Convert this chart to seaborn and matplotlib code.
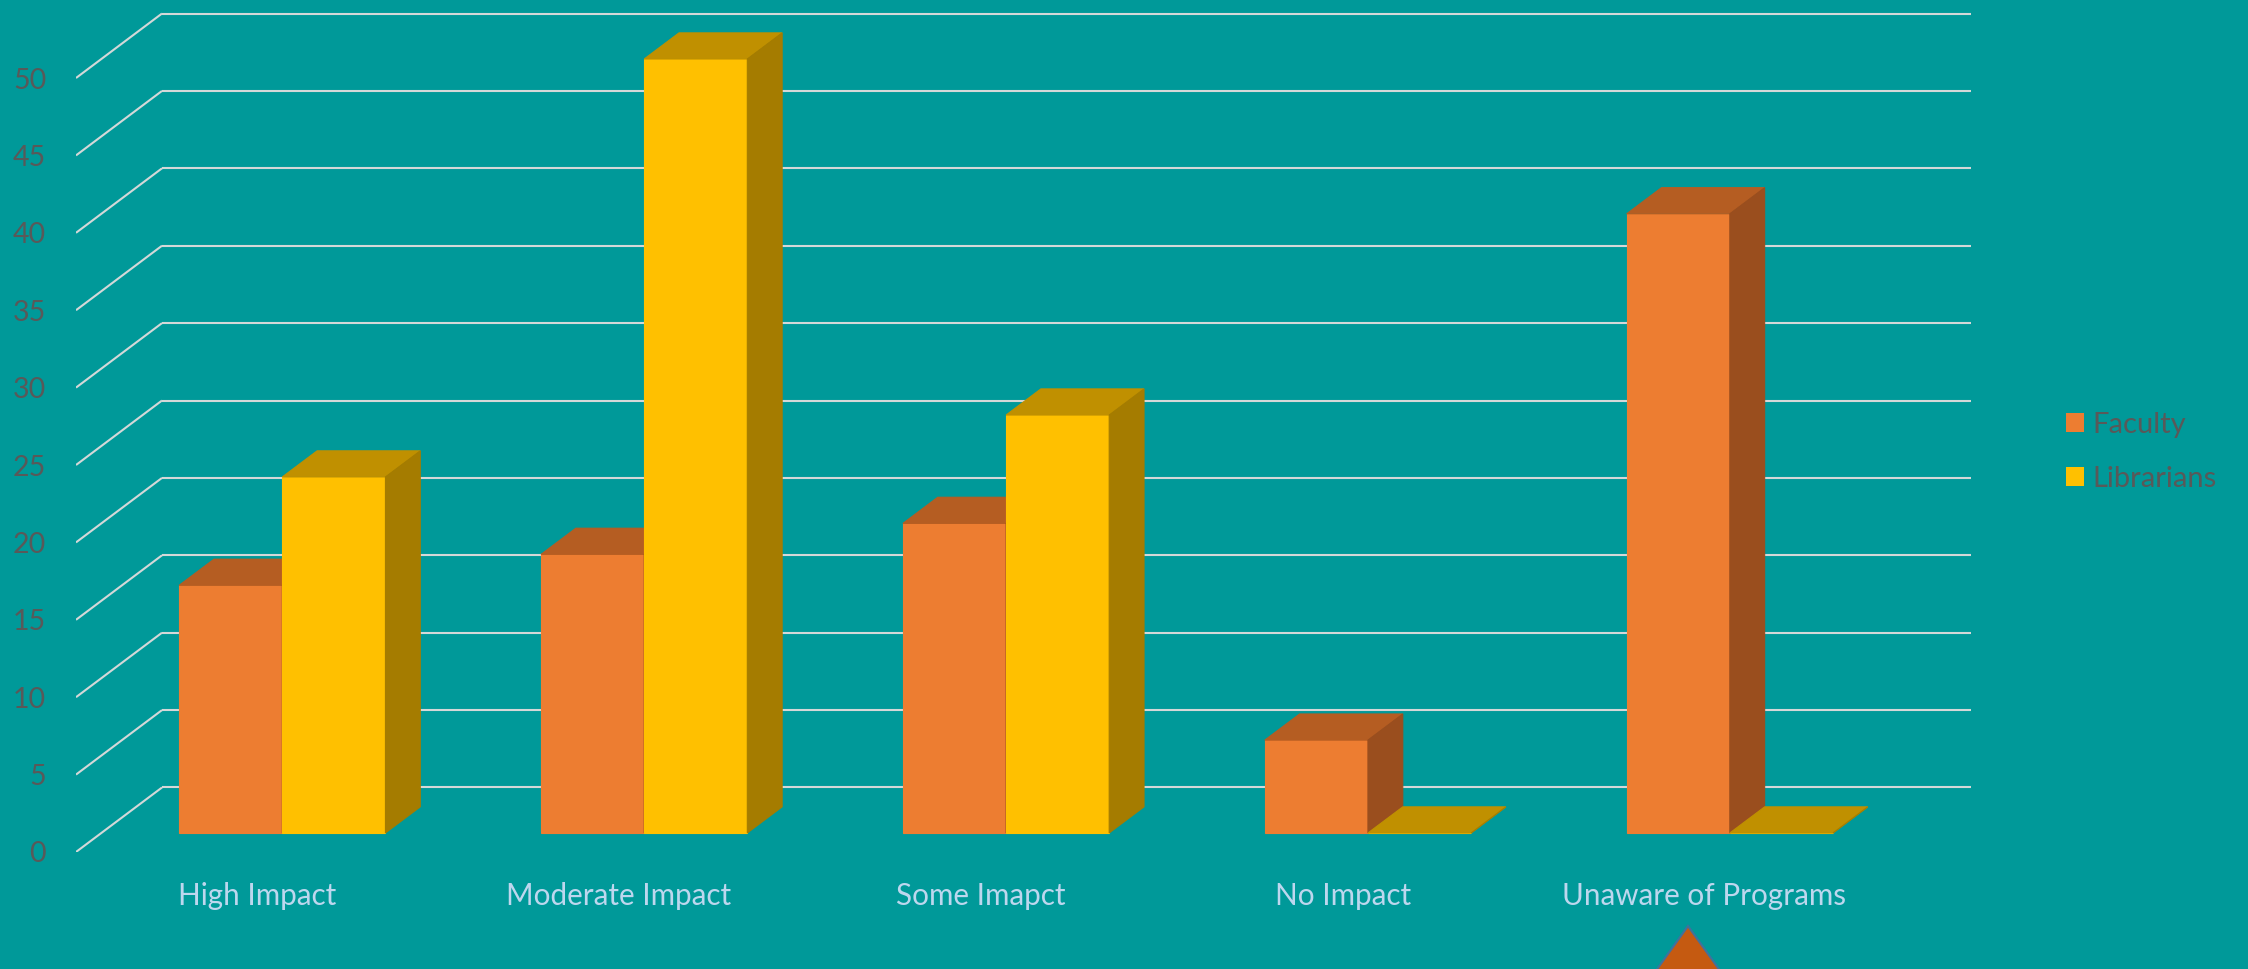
import matplotlib
matplotlib.use("Agg")
import numpy as np
import pandas as pd
import seaborn as sns
import matplotlib.pyplot as plt
from matplotlib.patches import Polygon, Patch
from matplotlib.colors import to_rgba

# ---------------- data ----------------
categories = ["High Impact", "Moderate Impact", "Some Imapct", "No Impact", "Unaware of Programs"]
series = ["Faculty", "Librarians"]
faculty = [16, 18, 20, 6, 40]
librarians = [23, 50, 27, 0, 0]
y_ticks = [0, 5, 10, 15, 20, 25, 30, 35, 40, 45, 50]

# ---------------- style ----------------
front_colors = {"Faculty": "#ED7D31", "Librarians": "#FFC000"}
top_colors = {"Faculty": "#B55D22", "Librarians": "#C09000"}
side_colors = {"Faculty": "#9A4E1E", "Librarians": "#A57C00"}
BG = "#009999"
GRID = "#D4D8D8"
TICK_COLOR = "#595959"
CAT_COLOR = "#BDD7EE"

W, H, DPI = 2248, 969, 100
DX, DY = 0.2376, 4.167     # full depth of the floor in data units (oblique projection)
T0, T1 = 0.295, 0.70       # bar front / back depth fractions

sns.set_theme(style="white")
plt.rcParams["font.family"] = ["Lato", "DejaVu Sans"]

fig = plt.figure(figsize=(W / DPI, H / DPI), dpi=DPI, facecolor=BG)
ax = fig.add_axes([76 / W, 117 / H, (W - 76) / W, 852 / H])
ax.set_facecolor(BG)

df = pd.DataFrame({
    "category": categories * 2,
    "series": [series[0]] * len(categories) + [series[1]] * len(categories),
    "value": faculty + librarians,
})

sns.barplot(data=df, x="category", y="value", hue="series", order=categories,
            hue_order=series, palette=front_colors, width=0.57, saturation=1,
            legend=False, ax=ax, linewidth=0.8)

# ---------------- 3D faces ----------------
def series_of(p):
    fc = p.get_facecolor()
    for s in series:
        if np.allclose(fc[:3], to_rgba(front_colors[s])[:3], atol=0.02):
            return s
    return series[0]

bars = list(ax.patches)
for p in bars:
    s = series_of(p)
    base_z = 3.0 if s == series[0] else 4.0
    x0 = p.get_x() + T0 * DX
    y0 = T0 * DY
    w = p.get_width()
    h = p.get_height()
    p.set_x(x0)
    p.set_y(y0)
    p.set_edgecolor(front_colors[s])
    p.set_zorder(base_z)
    ddx, ddy = (T1 - T0) * DX, (T1 - T0) * DY
    top = Polygon([(x0, y0 + h), (x0 + w, y0 + h), (x0 + w + ddx, y0 + h + ddy), (x0 + ddx, y0 + h + ddy)],
                  closed=True, facecolor=top_colors[s], edgecolor=top_colors[s], lw=0.8, zorder=base_z + 0.1)
    side = Polygon([(x0 + w, y0), (x0 + w + ddx, y0 + ddy), (x0 + w + ddx, y0 + h + ddy), (x0 + w, y0 + h)],
                   closed=True, facecolor=side_colors[s], edgecolor=side_colors[s], lw=0.8, zorder=base_z + 0.2)
    ax.add_patch(top)
    ax.add_patch(side)

# ---------------- gridlines (floor diagonal + back wall) ----------------
n = len(categories)
for v in y_ticks:
    ax.plot([-0.5, -0.5 + DX], [v, v + DY], color=GRID, lw=1.5, zorder=1, solid_capstyle="butt")
    ax.plot([-0.5 + DX, n - 0.5 + DX], [v + DY, v + DY], color=GRID, lw=1.5, zorder=1, solid_capstyle="butt")

ax.set_xlim(-0.5, 5.502)
ax.set_ylim(0, 55.04)
for sp in ax.spines.values():
    sp.set_visible(False)
ax.grid(False)

ax.set_yticks(y_ticks)
ax.set_yticklabels([str(v) for v in y_ticks])
ax.tick_params(axis="y", length=0, pad=21.5, labelsize=20.5, labelcolor=TICK_COLOR)
ax.set_xticks(range(n))
ax.set_xticklabels(categories)
ax.tick_params(axis="x", length=0, pad=21.5, labelsize=21.3, labelcolor=CAT_COLOR)
ax.set_xlabel("")
ax.set_ylabel("")

# ---------------- legend ----------------
handles = [Patch(facecolor=front_colors[s], edgecolor="none", label=s) for s in series]
fig.legend(handles=handles, loc="center left", bbox_to_anchor=(2066 / W, 1 - 452 / H),
           frameon=False, fontsize=21, handlelength=0.62, handleheight=0.62,
           handletextpad=0.3, labelspacing=0.95, borderaxespad=0, borderpad=0,
           labelcolor=TICK_COLOR)

# ---------------- decorative triangle marker ----------------
tri = Polygon([(1688 / W, 1 - 926 / H), (1655 / W, 1 - 972 / H), (1721 / W, 1 - 972 / H)],
              closed=True, transform=fig.transFigure, facecolor="#C55A11",
              edgecolor="#41719C", lw=1.5, clip_on=False)
fig.add_artist(tri)

fig.savefig("out.png", dpi=DPI, facecolor=BG)
